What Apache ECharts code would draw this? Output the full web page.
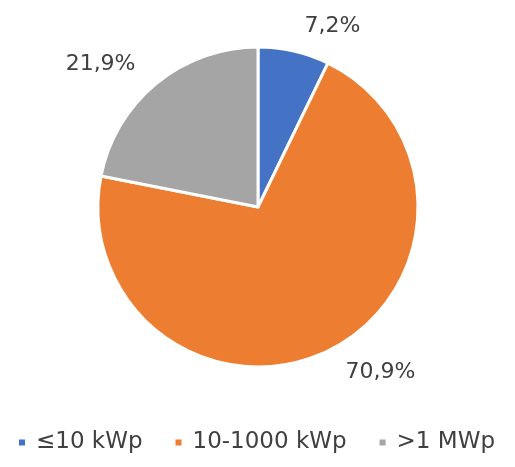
<!DOCTYPE html>
<html>
<head>
<meta charset="utf-8">
<script src="https://cdn.jsdelivr.net/npm/echarts@6/dist/echarts.min.js"></script>
<style>
  html, body { margin: 0; padding: 0; background: #fff; }
  #chart { width: 515px; height: 467px; }
</style>
</head>
<body>
<div id="chart"></div>
<script>
const categories = ['≤10 kWp', '10-1000 kWp', '>1 MWp'];
const shares = [7.2, 70.9, 21.9];
const colors = ['#4472C4', '#ED7D31', '#A5A5A5'];

const myChart = echarts.init(document.getElementById('chart'));
const fontFamily = '"DejaVu Sans", sans-serif';

const option = {
    animation: false,
    color: colors,
    legend: {
        bottom: 8,
        left: 12,
        icon: 'rect',
        itemWidth: 8,
        itemHeight: 8,
        itemGap: 31,
        textStyle: { fontFamily: fontFamily, fontSize: 23, color: '#404040', padding: [0, 0, 0, 5] },
        data: categories
    },
    series: [{
        type: 'pie',
        center: [258, 207],
        radius: 160,
        startAngle: 90,
        clockwise: true,
        itemStyle: { borderColor: '#fff', borderWidth: 3 },
        label: {
            show: true,
            position: 'outside',
            fontFamily: fontFamily,
            fontSize: 22,
            color: '#404040',
            formatter: (p) => p.value.toFixed(1).replace('.', ',') + '%'
        },
        labelLine: { show: false, length: 25, length2: 0 },
        data: categories.map((c, i) => ({ name: c, value: shares[i] }))
    }]
};
myChart.setOption(option);
</script>
</body>
</html>
